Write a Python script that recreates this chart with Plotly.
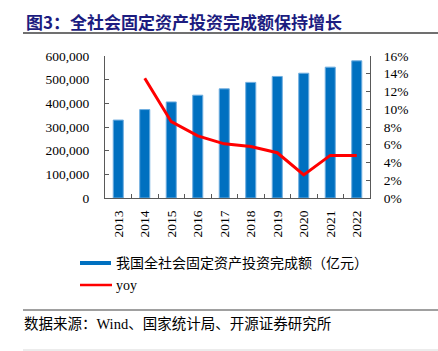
import plotly.graph_objects as go

years = ["2013", "2014", "2015", "2016", "2017", "2018", "2019", "2020", "2021", "2022"]
invest = [329318, 373637, 405928, 434364, 461284, 488499, 513608, 527270, 552884, 579556]
yoy = [None, 13.5, 8.6, 7.0, 6.1, 5.8, 5.1, 2.6, 4.8, 4.8]

bar_name = "我国全社会固定资产投资完成额（亿元）"
line_name = "yoy"
title = "图3：全社会固定资产投资完成额保持增长"
source = "数据来源：Wind、国家统计局、开源证券研究所"

W, H = 438, 351
def px(x):
    return x / W
def py(y):
    return 1 - y / H

BLUE = "#0070C0"
RED = "#FF0000"
AXIS = "#595959"
SERIF = "Liberation Serif, Times New Roman, serif"
CJK = "Noto Sans CJK SC, sans-serif"
MIXED = "Liberation Serif, Noto Sans CJK SC, serif"

fig = go.Figure()
fig.add_trace(go.Bar(x=years, y=invest, name=bar_name, width=0.38,
                     marker=dict(color=BLUE, line=dict(color="#6FAEE0", width=1)),
                     showlegend=False))
fig.add_trace(go.Scatter(x=years, y=yoy, name=line_name, yaxis="y2", mode="lines",
                         line=dict(color=RED, width=3), showlegend=False))

axis_common = dict(showline=True, linecolor=AXIS, linewidth=1, ticks="inside",
                   tickcolor=AXIS, ticklen=4, showgrid=False, zeroline=False,
                   tickfont=dict(family=SERIF, size=13.5, color="black"), automargin=False)

fig.update_layout(
    width=W, height=H, margin=dict(l=0, r=0, t=0, b=0),
    paper_bgcolor="white", plot_bgcolor="white", showlegend=False,
    bargap=0.6,
    xaxis=dict(domain=[px(105), px(370)], type="category", tickson="boundaries",
               tickangle=-90, ticklabelstandoff=6, **axis_common),
    yaxis=dict(domain=[py(198), py(56)], range=[0, 600000], dtick=100000,
               tickformat=",", ticklabelstandoff=12, **axis_common),
    yaxis2=dict(overlaying="y", side="right", range=[0, 16], dtick=2, ticksuffix="%",
                anchor="x", ticklabelstandoff=10, **axis_common),
)

shapes = [
    dict(type="line", xref="paper", yref="paper", x0=px(23), x1=px(438), y0=py(33), y1=py(33),
         line=dict(color="#404040", width=1.5)),
    dict(type="line", xref="paper", yref="paper", x0=px(23), x1=px(438), y0=py(310), y1=py(310),
         line=dict(color="#808080", width=1.5)),
    dict(type="line", xref="paper", yref="paper", x0=px(23), x1=px(438), y0=py(350), y1=py(350),
         line=dict(color="#D9D9D9", width=1)),
    # legend symbols
    dict(type="rect", xref="paper", yref="paper", x0=px(80), x1=px(111), y0=py(265), y1=py(261),
         fillcolor=BLUE, line=dict(width=0)),
    dict(type="line", xref="paper", yref="paper", x0=px(80), x1=px(112), y0=py(285), y1=py(285),
         line=dict(color=RED, width=2.5)),
]
fig.update_layout(shapes=shapes)

ann = [
    dict(text=title, x=px(24), y=py(21), xanchor="left", yanchor="middle",
         font=dict(family=CJK, size=17, color="#1C1C80", weight="bold")),
    dict(text=bar_name, x=px(114), y=py(263), xanchor="left", yanchor="middle",
         font=dict(family=MIXED, size=14, color="black")),
    dict(text=line_name, x=px(114), y=py(285), xanchor="left", yanchor="middle",
         font=dict(family=SERIF, size=14, color="black")),
    dict(text=source, x=px(22), y=py(324), xanchor="left", yanchor="middle",
         font=dict(family=MIXED, size=14.5, color="black")),
]
for a in ann:
    a.update(xref="paper", yref="paper", showarrow=False)
fig.update_layout(annotations=ann)

fig.write_html("out.html")
